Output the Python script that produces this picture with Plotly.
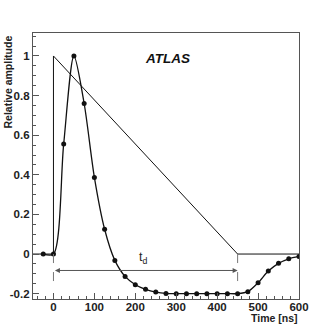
import plotly.graph_objects as go

# pulse samples (every 25 ns)
pulse_time = [-25, 0, 25, 50, 75, 100, 125, 150, 175, 200, 225, 250, 275,
              300, 325, 350, 375, 400, 425, 450, 475, 500, 525, 550, 575, 600]
pulse_amp = [0.0, 0.0, 0.556, 1.0, 0.76, 0.387, 0.125, -0.032, -0.113, -0.155,
             -0.178, -0.192, -0.199, -0.2, -0.2, -0.2, -0.2, -0.2, -0.2, -0.2,
             -0.19, -0.145, -0.086, -0.047, -0.024, -0.012]

# triangular ionisation signal
tri_time = [-50, 0, 0, 450, 600]
tri_amp = [0, 0, 1, 0, 0]

drift_start = 0
drift_end = 450

x_ticks = [0, 100, 200, 300, 400, 500, 600]
y_ticks = [-0.2, 0, 0.2, 0.4, 0.6, 0.8, 1]
y_labels = ["-0.2", "0", "0.2", "0.4", "0.6", "0.8", "1"]

FONT = "Liberation Sans"
tick_font = dict(family=FONT, size=11.5, color="#222", weight="bold")

fig = go.Figure()

fig.add_trace(go.Scatter(
    x=tri_time, y=tri_amp, mode="lines",
    line=dict(color="#111", width=1), hoverinfo="skip"
))

fig.add_trace(go.Scatter(
    x=pulse_time, y=pulse_amp, mode="lines+markers",
    line=dict(color="#111", width=1.3, shape="spline", smoothing=0.8),
    marker=dict(color="#111", size=5)
))

# dashed markers of the drift time
for t in (drift_start, drift_end):
    fig.add_shape(type="line", x0=t, x1=t, y0=0, y1=-0.148,
                  line=dict(color="#777", width=1, dash="dash"))

# double arrow for t_d
fig.add_annotation(
    x=drift_end, y=-0.083, ax=drift_start, ay=-0.083,
    xref="x", yref="y", axref="x", ayref="y",
    text="", showarrow=True, arrowside="end+start",
    arrowhead=2, arrowsize=1, arrowwidth=1, arrowcolor="#555"
)
fig.add_annotation(
    x=219, y=-0.07, xref="x", yref="y", showarrow=False, yanchor="bottom",
    text="t<sub>d</sub>", font=dict(family=FONT, size=12.5, color="#222")
)

fig.add_annotation(
    x=278, y=0.985, xref="x", yref="y", showarrow=False,
    text="<b><i>ATLAS</i></b>", font=dict(family=FONT, size=13.5, color="#111")
)

fig.add_annotation(
    x=-0.094, y=1.0, xref="paper", yref="paper", showarrow=False,
    xanchor="center", yanchor="top", textangle=-90,
    text="<b>Relative amplitude</b>", font=dict(family=FONT, size=10.5, color="#222")
)
fig.add_annotation(
    x=1.0, y=-0.073, xref="paper", yref="paper", showarrow=False,
    xanchor="right", yanchor="middle",
    text="<b>Time [ns]</b>", font=dict(family=FONT, size=10.5, color="#222")
)

fig.update_xaxes(
    range=[-50, 600], tickvals=x_ticks, ticks="inside", ticklen=6,
    tickcolor="#555", tickfont=tick_font, showgrid=False, zeroline=False,
    showline=True, linecolor="#555", linewidth=1.3, mirror=True,
    automargin=False, ticklabelstandoff=-3,
    minor=dict(dtick=20, tick0=0, ticks="inside", ticklen=3, tickcolor="#555")
)
fig.update_yaxes(
    range=[-0.227, 1.116], tickvals=y_ticks, ticktext=y_labels,
    ticks="inside", ticklen=6, tickcolor="#555", tickfont=tick_font,
    showgrid=False, zeroline=False,
    showline=True, linecolor="#555", linewidth=1.3, mirror=True,
    automargin=False,
    minor=dict(dtick=0.05, tick0=0, ticks="inside", ticklen=3, tickcolor="#555")
)

fig.update_layout(
    width=332, height=332,
    margin=dict(l=33, r=33, t=33, b=33),
    plot_bgcolor="white", paper_bgcolor="white",
    showlegend=False
)

# drop the default 8 px body margin so the figure sits at the page corner
fig.write_html("out.html", config={"displayModeBar": False},
               post_script="document.body.style.margin = '0';")
